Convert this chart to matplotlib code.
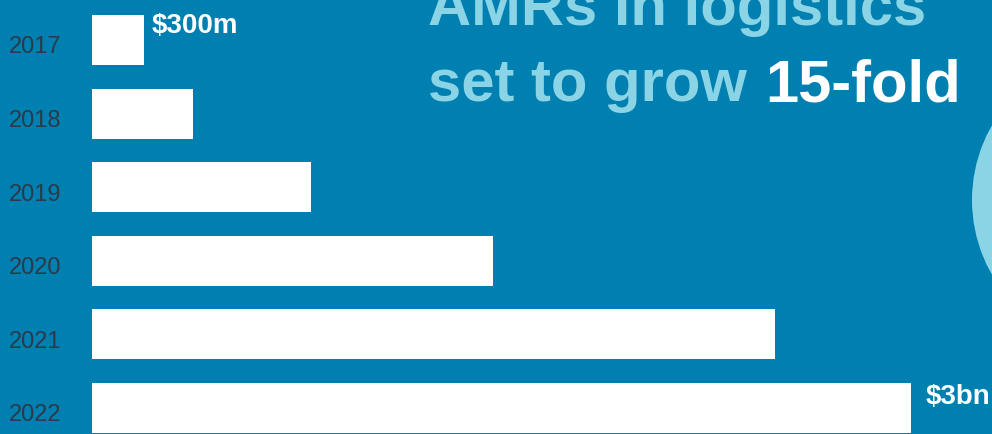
import matplotlib
matplotlib.use("Agg")
import matplotlib.pyplot as plt
from matplotlib.patches import Circle
from matplotlib.transforms import IdentityTransform

plt.rcParams['font.family'] = ['Liberation Sans', 'DejaVu Sans']

years = ["2017", "2018", "2019", "2020", "2021", "2022"]
values_musd = [190, 370, 802, 1469, 2502, 3000]
value_labels = {"2017": "$300m", "2022": "$3bn"}
title_line1 = "AMRs in logistics"
title_line2a = "set to grow "
title_line2b = "15-fold"

BG = "#007FB1"
LIGHT = "#8AD4E6"
W, H = 992, 434
fig = plt.figure(figsize=(W / 100, H / 100), dpi=100, facecolor=BG)

# decorative circle at right edge (pixel coords, origin bottom-left)
fig.add_artist(Circle((1122, H - 200), 150, transform=IdentityTransform(),
                      facecolor=LIGHT, edgecolor='none', zorder=0))

ax = fig.add_axes([92 / W, 0, 1 - 92 / W, 1])
ax.set_facecolor('none')
idx = list(range(len(years)))
ax.barh(idx, values_musd, height=0.68, color='white', zorder=3)
ax.set_xlim(0, 3000 * 900 / 819)
ax.set_ylim((434 - 40) / 73.6, -40 / 73.6)
ax.axis('off')

for i, y in enumerate(years):
    ax.annotate(y, xy=(0, i), xycoords=('axes fraction', 'data'),
                xytext=(-31 * 0.72, -7.5 * 0.72), textcoords='offset points',
                ha='right', va='center', fontsize=17, color='#2B3A4A')
    if y in value_labels:
        dx = 8 if i == 0 else 15
        dy = 14 if i == 0 else 11
        ax.annotate(value_labels[y], xy=(values_musd[i], i), xycoords='data',
                    xytext=(dx * 0.72, dy * 0.72), textcoords='offset points',
                    ha='left', va='center', fontsize=20, fontweight='bold',
                    color='white')

fig.text(428 / W, 1 - 25 / H, title_line1, ha='left', va='baseline',
         fontsize=43, fontweight='bold', color=LIGHT)
fig.text(428 / W, 1 - 101 / H, title_line2a, ha='left', va='baseline',
         fontsize=43, fontweight='bold', color=LIGHT)
fig.text(765 / W, 1 - 101 / H, title_line2b, ha='left', va='baseline',
         fontsize=43, fontweight='bold', color='white')

fig.savefig("out.png", dpi=100, facecolor=BG)
